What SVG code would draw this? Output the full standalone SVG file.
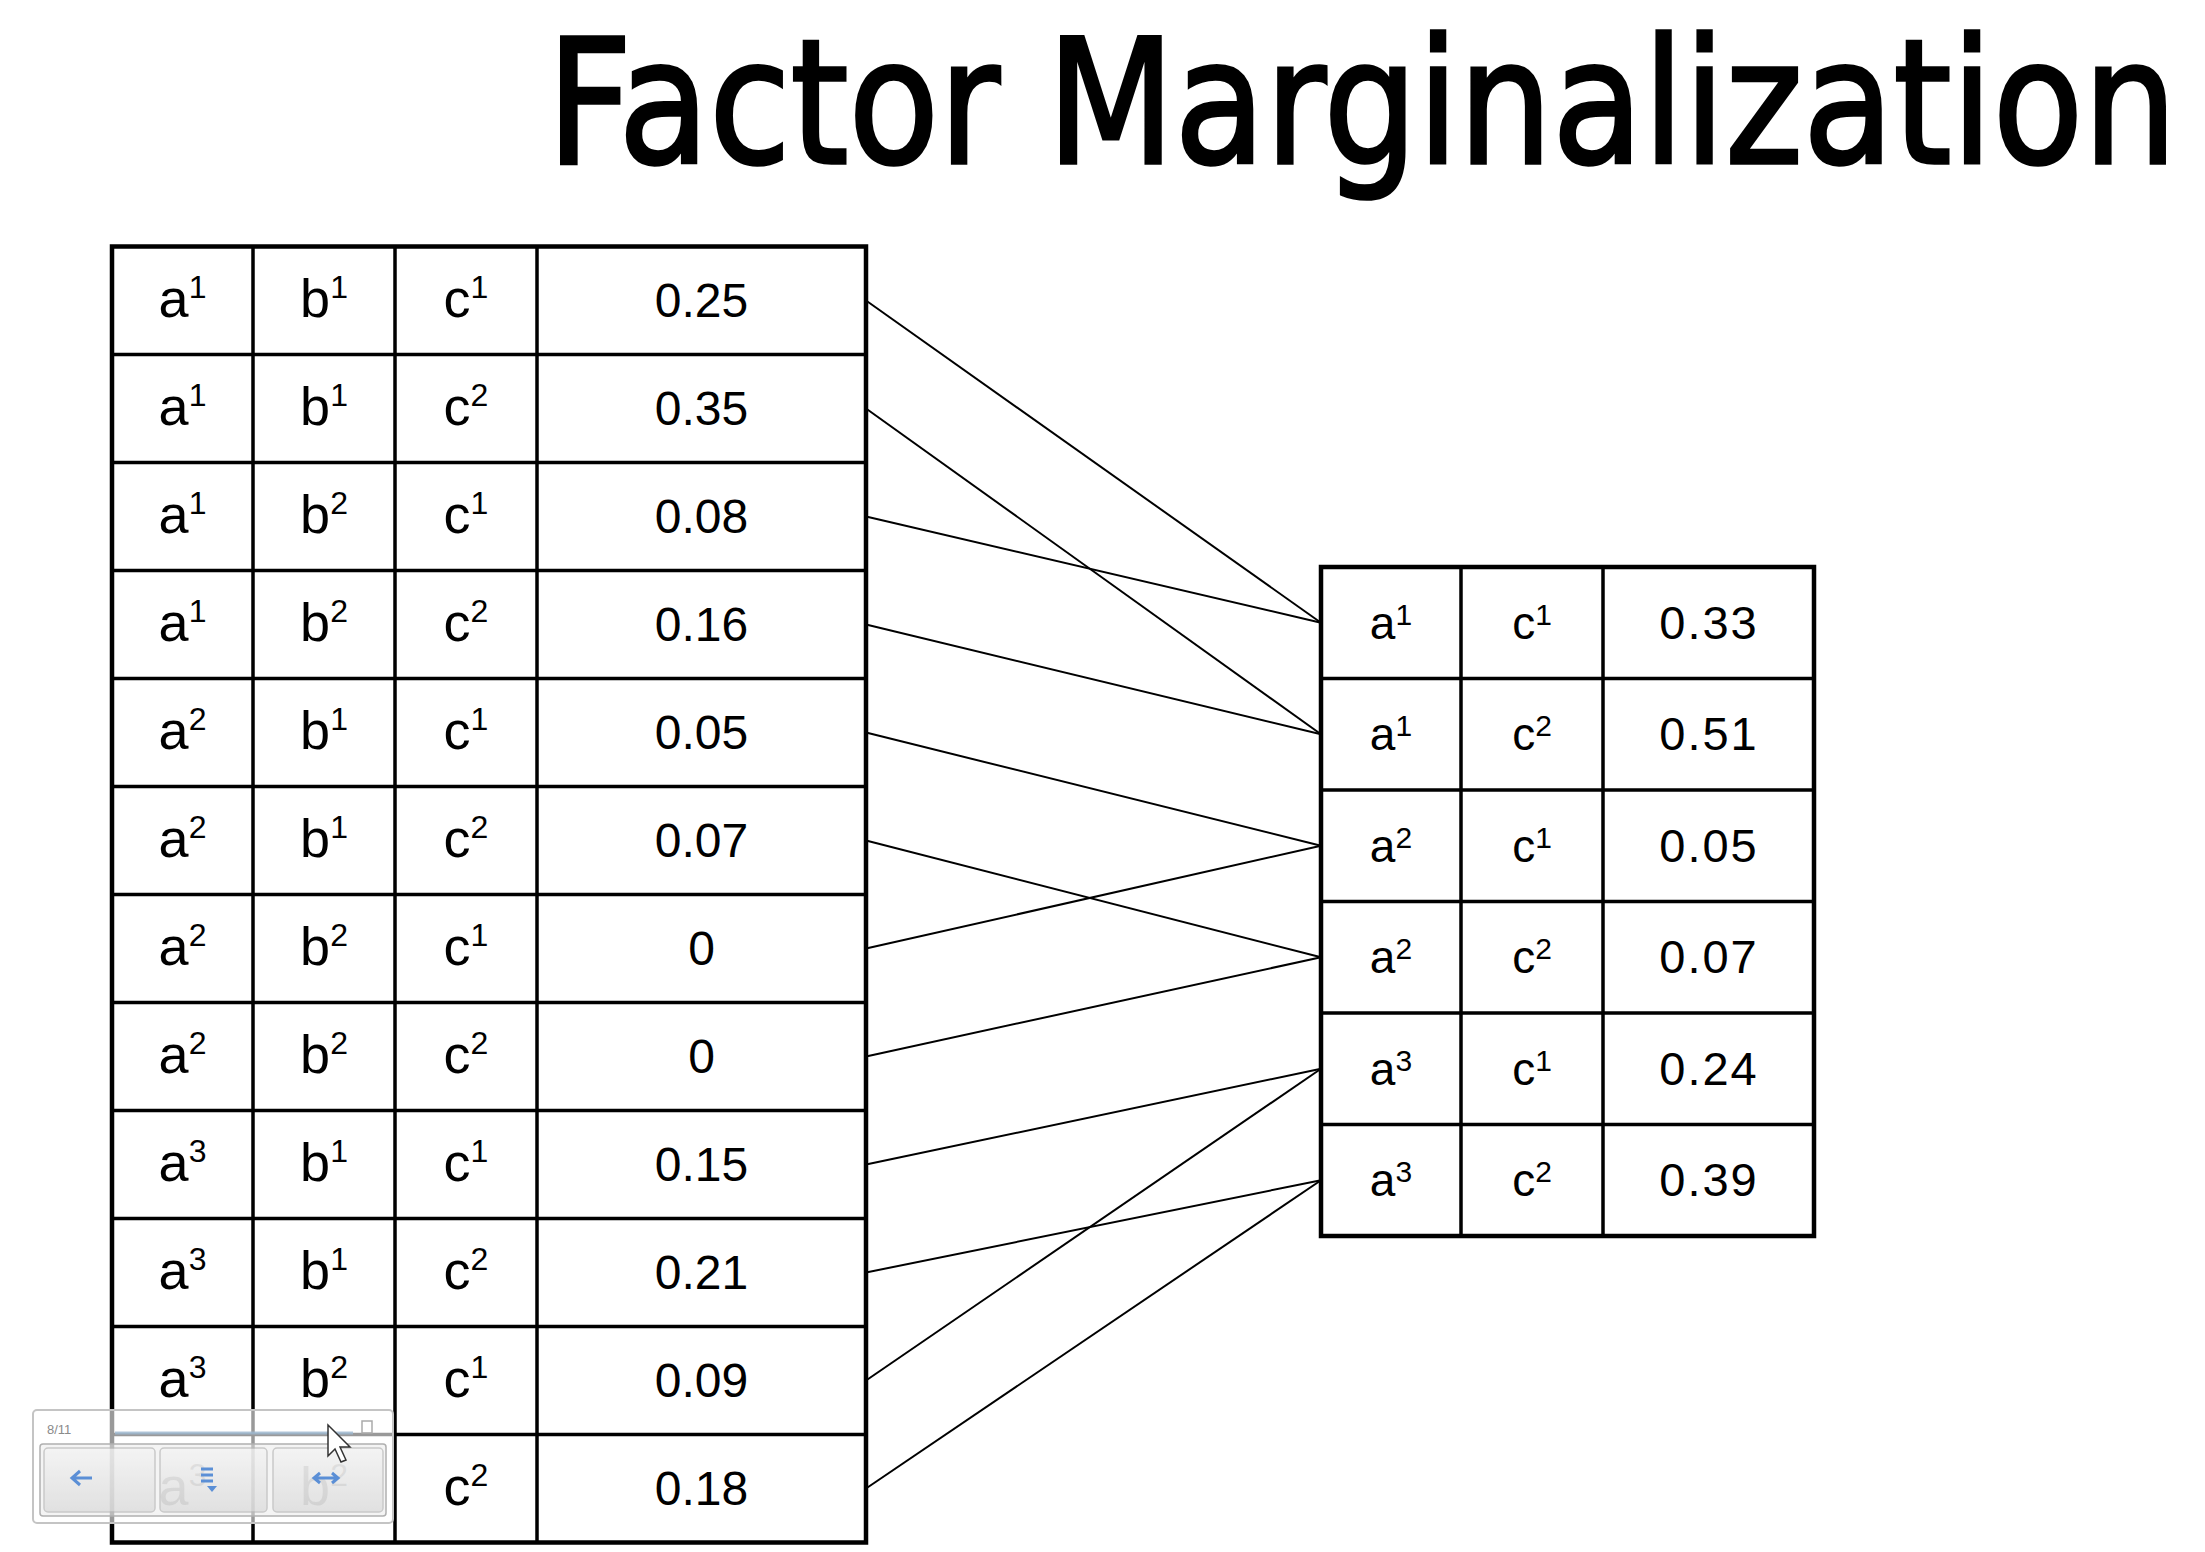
<svg xmlns="http://www.w3.org/2000/svg" width="2205" height="1552" viewBox="0 0 2205 1552">
<defs>
<style>
.bg{fill:#fff}
.grid{stroke:#000;stroke-width:3.5;fill:none}
.outer{stroke:#000;stroke-width:4.5;fill:none}
.conn{stroke:#000;stroke-width:2;fill:none}
.lbl{font-family:"Liberation Sans",Arial,sans-serif;font-size:54px;fill:#000;text-anchor:middle}
.num{font-family:"Liberation Sans",Arial,sans-serif;font-size:48px;fill:#000;text-anchor:middle}
.rlbl{font-family:"Liberation Sans",Arial,sans-serif;font-size:46px;fill:#000;text-anchor:middle}
.rnum{font-family:"Liberation Sans",Arial,sans-serif;font-size:47px;fill:#000;text-anchor:middle;letter-spacing:2px}
.sup{font-size:32px}
.rsup{font-size:30px}
.title{font-family:"DejaVu Sans","Liberation Sans",sans-serif;font-size:146px;fill:#000;stroke:#000;stroke-width:3}
.btn{fill:url(#btng);stroke:#b8b8b8;stroke-width:1.5;opacity:0.7}
.icon{fill:none;stroke:#5b8fd6;stroke-width:3}
</style>
<linearGradient id="btng" x1="0" y1="0" x2="0" y2="1">
<stop offset="0" stop-color="#f4f4f4"/>
<stop offset="1" stop-color="#d9d9d9"/>
</linearGradient>
</defs>
<rect class="bg" x="0" y="0" width="2205" height="1552"/>
<text id="title" class="title" transform="translate(547,163) scale(1,1.18)" x="0" y="0" textLength="1630" lengthAdjust="spacingAndGlyphs">Factor Marginalization</text>

<g id="connectors">
<line class="conn" x1="866" y1="300.5" x2="1321" y2="622.75"/>
<line class="conn" x1="866" y1="408.5" x2="1321" y2="734.25"/>
<line class="conn" x1="866" y1="516.5" x2="1321" y2="622.75"/>
<line class="conn" x1="866" y1="624.5" x2="1321" y2="734.25"/>
<line class="conn" x1="866" y1="732.5" x2="1321" y2="845.75"/>
<line class="conn" x1="866" y1="840.5" x2="1321" y2="957.25"/>
<line class="conn" x1="866" y1="948.5" x2="1321" y2="845.75"/>
<line class="conn" x1="866" y1="1056.5" x2="1321" y2="957.25"/>
<line class="conn" x1="866" y1="1164.5" x2="1321" y2="1068.75"/>
<line class="conn" x1="866" y1="1272.5" x2="1321" y2="1180.25"/>
<line class="conn" x1="866" y1="1380.5" x2="1321" y2="1068.75"/>
<line class="conn" x1="866" y1="1488.5" x2="1321" y2="1180.25"/>
</g>

<g id="factor-abc">
<rect class="outer" x="112" y="246.5" width="754" height="1296"/>
<path class="grid" d="M253 246.5V1542.5M395 246.5V1542.5M537 246.5V1542.5
M112 354.5H866M112 462.5H866M112 570.5H866M112 678.5H866M112 786.5H866M112 894.5H866M112 1002.5H866M112 1110.5H866M112 1218.5H866M112 1326.5H866M112 1434.5H866"/>
<g id="abc-r1"><text class="lbl" x="182.5" y="316.5">a<tspan class="sup" dy="-19">1</tspan></text><text class="lbl" x="324" y="316.5">b<tspan class="sup" dy="-19">1</tspan></text><text class="lbl" x="466" y="316.5">c<tspan class="sup" dy="-19">1</tspan></text><text class="num" x="701.5" y="317">0.25</text></g>
<g id="abc-r2"><text class="lbl" x="182.5" y="424.5">a<tspan class="sup" dy="-19">1</tspan></text><text class="lbl" x="324" y="424.5">b<tspan class="sup" dy="-19">1</tspan></text><text class="lbl" x="466" y="424.5">c<tspan class="sup" dy="-19">2</tspan></text><text class="num" x="701.5" y="425">0.35</text></g>
<g id="abc-r3"><text class="lbl" x="182.5" y="532.5">a<tspan class="sup" dy="-19">1</tspan></text><text class="lbl" x="324" y="532.5">b<tspan class="sup" dy="-19">2</tspan></text><text class="lbl" x="466" y="532.5">c<tspan class="sup" dy="-19">1</tspan></text><text class="num" x="701.5" y="533">0.08</text></g>
<g id="abc-r4"><text class="lbl" x="182.5" y="640.5">a<tspan class="sup" dy="-19">1</tspan></text><text class="lbl" x="324" y="640.5">b<tspan class="sup" dy="-19">2</tspan></text><text class="lbl" x="466" y="640.5">c<tspan class="sup" dy="-19">2</tspan></text><text class="num" x="701.5" y="641">0.16</text></g>
<g id="abc-r5"><text class="lbl" x="182.5" y="748.5">a<tspan class="sup" dy="-19">2</tspan></text><text class="lbl" x="324" y="748.5">b<tspan class="sup" dy="-19">1</tspan></text><text class="lbl" x="466" y="748.5">c<tspan class="sup" dy="-19">1</tspan></text><text class="num" x="701.5" y="749">0.05</text></g>
<g id="abc-r6"><text class="lbl" x="182.5" y="856.5">a<tspan class="sup" dy="-19">2</tspan></text><text class="lbl" x="324" y="856.5">b<tspan class="sup" dy="-19">1</tspan></text><text class="lbl" x="466" y="856.5">c<tspan class="sup" dy="-19">2</tspan></text><text class="num" x="701.5" y="857">0.07</text></g>
<g id="abc-r7"><text class="lbl" x="182.5" y="964.5">a<tspan class="sup" dy="-19">2</tspan></text><text class="lbl" x="324" y="964.5">b<tspan class="sup" dy="-19">2</tspan></text><text class="lbl" x="466" y="964.5">c<tspan class="sup" dy="-19">1</tspan></text><text class="num" x="701.5" y="965">0</text></g>
<g id="abc-r8"><text class="lbl" x="182.5" y="1072.5">a<tspan class="sup" dy="-19">2</tspan></text><text class="lbl" x="324" y="1072.5">b<tspan class="sup" dy="-19">2</tspan></text><text class="lbl" x="466" y="1072.5">c<tspan class="sup" dy="-19">2</tspan></text><text class="num" x="701.5" y="1073">0</text></g>
<g id="abc-r9"><text class="lbl" x="182.5" y="1180.5">a<tspan class="sup" dy="-19">3</tspan></text><text class="lbl" x="324" y="1180.5">b<tspan class="sup" dy="-19">1</tspan></text><text class="lbl" x="466" y="1180.5">c<tspan class="sup" dy="-19">1</tspan></text><text class="num" x="701.5" y="1181">0.15</text></g>
<g id="abc-r10"><text class="lbl" x="182.5" y="1288.5">a<tspan class="sup" dy="-19">3</tspan></text><text class="lbl" x="324" y="1288.5">b<tspan class="sup" dy="-19">1</tspan></text><text class="lbl" x="466" y="1288.5">c<tspan class="sup" dy="-19">2</tspan></text><text class="num" x="701.5" y="1289">0.21</text></g>
<g id="abc-r11"><text class="lbl" x="182.5" y="1396.5">a<tspan class="sup" dy="-19">3</tspan></text><text class="lbl" x="324" y="1396.5">b<tspan class="sup" dy="-19">2</tspan></text><text class="lbl" x="466" y="1396.5">c<tspan class="sup" dy="-19">1</tspan></text><text class="num" x="701.5" y="1397">0.09</text></g>
<g id="abc-r12"><text class="lbl" x="182.5" y="1504.5">a<tspan class="sup" dy="-19">3</tspan></text><text class="lbl" x="324" y="1504.5">b<tspan class="sup" dy="-19">2</tspan></text><text class="lbl" x="466" y="1504.5">c<tspan class="sup" dy="-19">2</tspan></text><text class="num" x="701.5" y="1505">0.18</text></g>
</g>

<g id="factor-ac">
<rect class="outer" x="1321" y="567" width="493" height="669"/>
<path class="grid" d="M1461 567V1236M1603 567V1236M1321 678.5H1814M1321 790H1814M1321 901.5H1814M1321 1013H1814M1321 1124.5H1814"/>
<g id="ac-r1"><text class="rlbl" x="1391" y="638.5">a<tspan class="rsup" dy="-14">1</tspan></text><text class="rlbl" x="1532" y="638.5">c<tspan class="rsup" dy="-14">1</tspan></text><text class="rnum" x="1709" y="638.5">0.33</text></g>
<g id="ac-r2"><text class="rlbl" x="1391" y="750">a<tspan class="rsup" dy="-14">1</tspan></text><text class="rlbl" x="1532" y="750">c<tspan class="rsup" dy="-14">2</tspan></text><text class="rnum" x="1709" y="750">0.51</text></g>
<g id="ac-r3"><text class="rlbl" x="1391" y="861.5">a<tspan class="rsup" dy="-14">2</tspan></text><text class="rlbl" x="1532" y="861.5">c<tspan class="rsup" dy="-14">1</tspan></text><text class="rnum" x="1709" y="861.5">0.05</text></g>
<g id="ac-r4"><text class="rlbl" x="1391" y="973">a<tspan class="rsup" dy="-14">2</tspan></text><text class="rlbl" x="1532" y="973">c<tspan class="rsup" dy="-14">2</tspan></text><text class="rnum" x="1709" y="973">0.07</text></g>
<g id="ac-r5"><text class="rlbl" x="1391" y="1084.5">a<tspan class="rsup" dy="-14">3</tspan></text><text class="rlbl" x="1532" y="1084.5">c<tspan class="rsup" dy="-14">1</tspan></text><text class="rnum" x="1709" y="1084.5">0.24</text></g>
<g id="ac-r6"><text class="rlbl" x="1391" y="1196">a<tspan class="rsup" dy="-14">3</tspan></text><text class="rlbl" x="1532" y="1196">c<tspan class="rsup" dy="-14">2</tspan></text><text class="rnum" x="1709" y="1196">0.39</text></g>
</g>

<g id="slide-widget">
<rect x="33" y="1410" width="360" height="113" rx="4" fill="#fff" fill-opacity="0.6" stroke="#c4c4c4" stroke-width="2"/>
<text x="47" y="1434" font-family="Liberation Sans,Arial,sans-serif" font-size="13" fill="#8a8a8a">8/11</text>
<line x1="115" y1="1433" x2="353" y2="1433" stroke="#9fbad2" stroke-width="3" opacity="0.8"/>
<rect x="362" y="1421" width="10" height="12" fill="none" stroke="#aaa" stroke-width="1.5"/>
<rect x="40" y="1444" width="346" height="72" rx="3" fill="#e6e6e6" fill-opacity="0.45" stroke="#b0b0b0" stroke-width="1.5"/>
<rect class="btn" x="44" y="1448" width="111" height="64" rx="4"/>
<rect class="btn" x="160" y="1448" width="107" height="64" rx="4"/>
<rect class="btn" x="273" y="1448" width="110" height="64" rx="4"/>
<path class="icon" d="M92 1478H72M80 1471L72 1478L80 1485"/>
<path class="icon" d="M201 1469H213M201 1475H213M201 1481H213"/>
<path d="M207 1486L217 1486L212 1492Z" fill="#5b8fd6"/>
<path class="icon" d="M314 1478H338M320 1473L314 1478L320 1483M332 1473L338 1478L332 1483"/>
<path d="M328 1425L328 1456L335 1449L341 1462L346 1460L340 1447L350 1447Z" fill="#fff" stroke="#333" stroke-width="1.5"/>
</g>
</svg>
